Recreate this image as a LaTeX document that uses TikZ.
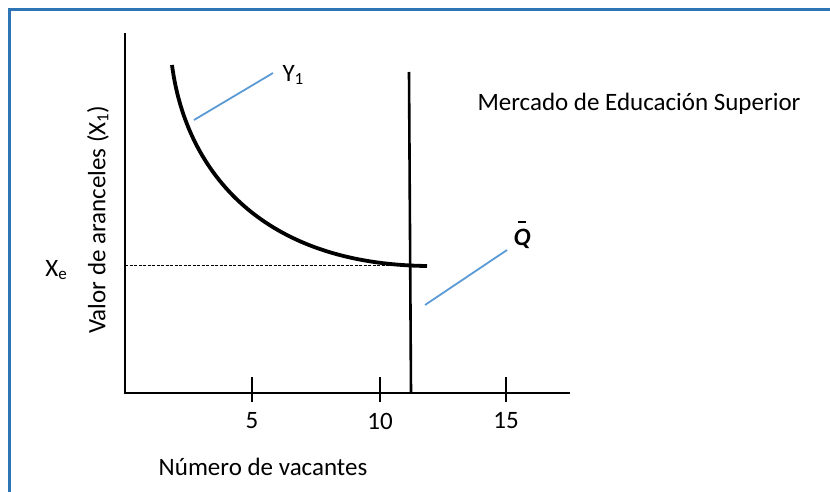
\documentclass[tikz,border=0pt]{standalone}
\usepackage{fontspec}
\setmainfont{Carlito}

\tikzset{
  axis/.style={line width=2.6pt},
  leader/.style={line width=1.8pt,color=leaderblue},
  lbl/.style={inner sep=0pt,font=\fontsize{25}{30}\selectfont}
}
\definecolor{frameblue}{RGB}{46,117,182}
\definecolor{leaderblue}{RGB}{91,155,213}
\newcommand{\lowsub}[1]{\raisebox{-0.12em}{\fontsize{17}{20}\selectfont #1}}

\begin{document}
\begin{tikzpicture}
[x=1pt,y=-1pt,line width=1pt]

\clip (0,0) rectangle (830,492);
\fill[white] (0,0) rectangle (830,492);
\draw[frameblue,line width=3pt] (9.5,10) rectangle (900,600); %frame

% axes
\coordinate (ytop) at (125,33);
\coordinate (origin) at (125,393);
\coordinate (xend) at (570,393);
\draw[axis] (ytop) -- (origin) -- (xend);

% ticks
\foreach \n/\x in {5/252,10/380,15/506}{
  \coordinate (t\n a) at (\x,377);
  \coordinate (t\n b) at (\x,402);
  \draw[axis] (t\n a) -- (t\n b);
  \node[lbl] (n\n) at (\x,421) {\n};
}

% fixed supply
\coordinate (qtop) at (409,72);
\coordinate (qbot) at (411,393);
\draw[axis] (qtop) -- (qbot);

% demand curve
\coordinate (ystart) at (172,65);
\coordinate (yend) at (427,266);
\draw[line width=3.8pt] (ystart) .. controls (185,165) and (255,264) .. (yend);

% equilibrium price
\coordinate (xe) at (125,265);
\coordinate (xecut) at (408,265);
\draw[dashed,line width=0.7pt,dash pattern=on 3pt off 1.5pt] (xe) -- (xecut);

% labels
\node[lbl] (xelab) at (56,270) {X\lowsub{e}};
\node[lbl,rotate=90] (ylab) at (98,220) {Valor de aranceles (X\lowsub{1})};
\node[lbl] (xlab) at (263,467) {Número de vacantes};
\node[lbl] (title) at (639,104) {Mercado de Educación Superior};
\node[lbl,anchor=west] (ylbl) at (282,75) {Y\lowsub{1}};
\node[lbl] (qlbl) at (522,235) {\shortstack{\rule{8pt}{1.8pt}\\[3pt]\textbf{\textit{Q}}}};

% leaders
\coordinate (y1a) at (194,120);
\coordinate (y1b) at (273,73);
\draw[leader] (y1a) -- (y1b);
\coordinate (qa) at (425,305);
\coordinate (qb) at (507,250);
\draw[leader] (qa) -- (qb);

\end{tikzpicture}
\end{document}
